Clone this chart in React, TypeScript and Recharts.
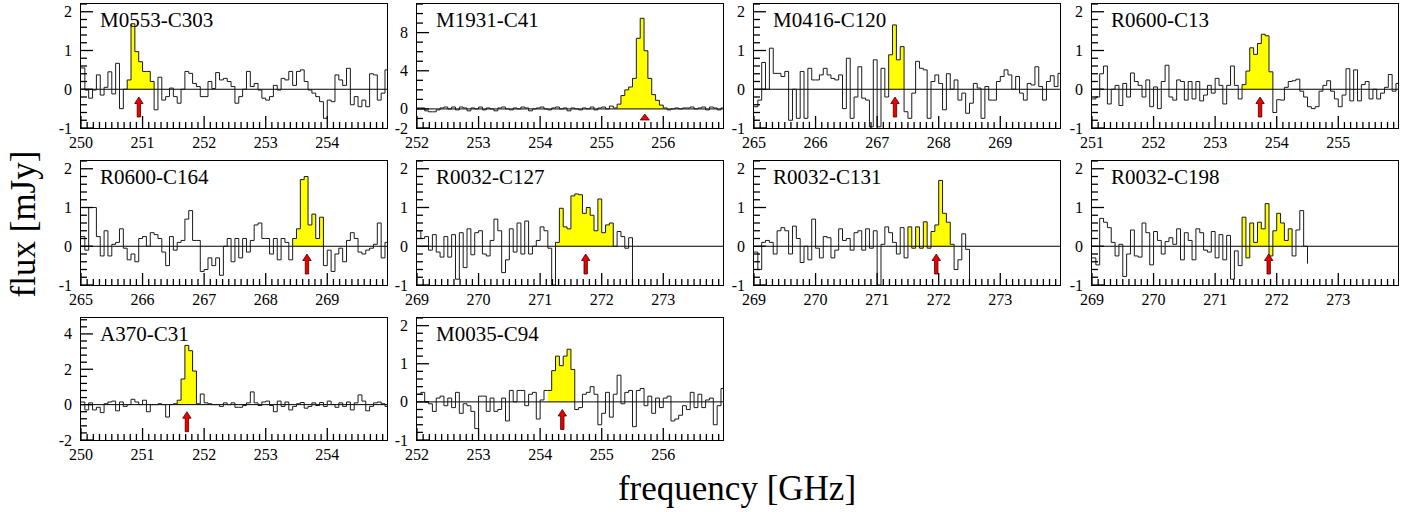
import React from 'react';
import { ComposedChart, XAxis, YAxis, Line, Area, ReferenceLine, ReferenceDot } from 'recharts';

// channel width of the spectra [GHz]
const BIN = 0.0625;

// flux per channel [mJy]
const m0553Flux = [
  0.55, -0.02, -0.23, -0.02, 0.37, -0.15, 0.05, 0.45, -0.12, 0.67, -0.5, 0.0, 0.24, 1.69, 0.97, 0.71, 0.46, 0.46, 0.2, -0.53,
  0.31, -0.28, -0.19, 0.03, -0.19, -0.36, 0.0, 0.46, 0.41, 0.15, 0.07, -0.19, -0.19, 0.2, 0.02, 0.43, 0.24, 0.28, 0.2, 0.07,
  -0.36, -0.19, 0.0, 0.46, 0.07, 0.15, -0.02, -0.23, -0.28, -0.19, 0.1, -0.02, 0.28, 0.24, 0.46, 0.1, 0.46, 0.5, 0.2, -0.02,
  -0.1, -0.19, -0.32, -0.75, -0.28, -0.32, 0.37, 0.24, 0.1, 0.54, -0.4, -0.19, -0.45, -0.28, -0.45, 0.4, 0.37, -0.28, -0.1, 0.5,
];
const m1931Flux = [
  0.1, 0.1, -0.2, -0.3, -0.3, -0.1, 0.1, 0.2, 0.0, 0.2, -0.1, 0.2, 0.1, -0.2, 0.1, 0.0, 0.2, -0.1, 0.1, 0.0,
  -0.2, 0.1, 0.2, 0.0, -0.1, 0.1, 0.0, 0.2, 0.1, -0.2, 0.0, 0.1, 0.2, 0.0, -0.1, 0.1, 0.2, 0.0, 0.1, -0.2,
  0.1, 0.0, -0.1, 0.1, 0.0, 0.2, -0.1, 0.1, 0.2, 0.0, 0.3, 0.1,
  0.5, 1.4, 2.0, 2.3, 3.2, 7.4, 9.5, 6.1, 3.2, 1.5, 0.9, 0.4,
  0.1, -0.1, 0.0, 0.1, 0.0, 0.1, 0.1, 0.2, 0.0, 0.1, 0.2, -0.1, 0.2, 0.1, -0.1, 0.1,
];
const m0416Flux = [
  -0.45, -0.28, 0.69, 0.0, 1.06, 0.41, 0.41, 0.33, 0.46, -0.8, 0.0, -0.75, 0.46, -0.75, 0.54, 0.24, 0.24, 0.37, 0.54, 0.37,
  0.28, 0.24, 0.37, -0.5, 0.8, -0.75, -0.2, 0.58, -0.23, -0.28, -0.97, 0.76, -0.97, 0.54, -0.2,
  0.89, 1.66, 0.76, 1.1,
  -0.58, -0.75, -0.1, 0.72, 0.54, 0.5, -0.75, 0.2, 0.37, 0.15, -0.53, 0.4, 0.0, 0.24, -0.28, -0.1, -0.62, -0.36, 0.15, 0.03,
  -0.75, 0.07, -0.28, -0.28, 0.2, 0.33, 0.5, 0.37, 0.0, 0.33, -0.1, -0.28, 0.15, 0.11, 0.58, 0.07, -0.28, 0.2, 0.35, 0.07, 0.41,
];
const r0600c13Flux = [
  -0.25, -0.2, 0.4, 0.6, -0.38, 0.0, 0.1, -0.42, 0.15, -0.2, 0.42, 0.2, 0.1, -0.2, 0.24, -0.45, 0.06, -0.5, 0.2, 0.62,
  -0.2, -0.28, 0.24, 0.2, -0.28, 0.2, -0.25, 0.2, -0.3, -0.15, 0.1, -0.1, 0.28, 0.1, -0.38, 0.1, 0.6, 0.1, -0.25,
  0.12, 0.47, 1.07, 0.9, 1.18, 1.42, 1.38, 0.45,
  -0.6, -0.27, -0.28, 0.05, 0.2, 0.22, 0.26, -0.05, -0.2, -0.45, -0.5, -0.45, -0.05, 0.1, 0.22, -0.05, -0.25, -0.45, -0.15, 0.53,
  -0.3, 0.5, -0.3, 0.12, 0.2, -0.25, 0.0, -0.25, -0.1, 0.05, 0.38, -0.05, 0.15,
];
const r0600c164Flux = [
  0.25, -0.1, 1.0, 1.0, 0.25, -0.25, 0.4, -0.25, 0.05, 0.1, 0.45, -0.05, -0.35, -0.2, -0.4, 0.2, 0.25, 0.0, 0.35, 0.3,
  0.2, -0.15, -0.5, 0.25, -0.1, 0.1, 0.15, 0.7, 0.92, 0.15, 0.15, -0.65, -0.6, -0.3, -0.5, -0.3, -0.75,
  0.0, 0.2, -0.4, 0.2, -0.3, 0.2, -0.15, 0.15, 0.55, 0.6, 0.2, 0.2, -0.2, 0.2, -0.35, 0.2, 0.1, -0.35,
  0.2, 0.45, 1.72, 1.8, 0.55, 0.83, 0.2, 0.75,
  -0.5, -0.1, -0.65, -0.2, -0.05, -0.4, 0.15, 0.35, 0.2, -0.15, -0.2, -0.1, -0.05, 0.05, 0.6, -0.3, 0.1,
];
const r0032c127Flux = [
  0.4, 0.2, 0.25, -0.1, 0.3, -0.15, -0.28, 0.25, -0.28, 0.3, -0.85, 0.35, -0.55, 0.45, -0.22, 0.35, 0.4, -0.2, -0.25, 0.15,
  0.7, 0.4, -0.68, -0.35, 0.45, -0.15, 0.6, -0.2, 0.65, -0.2, 0.0, 0.15, 0.5, 0.4, -0.05, -1.0,
  0.1, 0.98, 0.5, 0.45, 1.3, 1.35, 1.33, 0.85, 1.0, 0.8, 0.4, 1.22, 0.35, 0.55, 0.6,
  0.0, 0.38, 0.25, -0.05, 0.22,
];
const r0032c131Flux = [
  -0.15, -0.6, 0.1, 0.15, 0.1, -0.2, 0.4, 0.48, 0.4, -0.2, 0.52, 0.2, -0.42, 0.0, -0.35, 0.7, -0.05, -0.3, 0.25, 0.22,
  -0.3, -0.1, 0.45, 0.15, 0.2, -0.1, 0.35, 0.4, -0.1, 0.45, -0.05, 0.4, -1.0, 0.05, 0.5, 0.35, 0.1, -0.2, 0.48, -0.3,
  0.5, -0.05, 0.5, -0.05, 0.63, -0.05, 0.38, 0.55, 1.7, 0.85, 0.62, 0.05,
  -0.6, -0.35, 0.32, -0.08,
];
const r0032c198Flux = [
  -0.3, -0.48, 0.72, 0.62, 0.48, 0.1, -0.25, 0.05, -0.78, -0.2, 0.42, -0.25, -0.28, 0.6, 0.35, -0.48, 0.38, 0.15, -0.2, 0.12,
  0.22, 0.05, 0.45, -0.35, 0.35, 0.15, -0.35, 0.45, 0.35, -0.1, -0.15, 0.38, -0.3, 0.3, -0.35, 0.28, -0.85, -0.12, -0.5,
  0.75, -0.3, 0.6, 0.1, 0.62, 0.45, 1.1, -0.25, 0.4, 0.85, 0.6, 0.15, 0.45,
  -0.25, 0.42, 0.92, 0.0,
];
const a370Flux = [
  0.15, -0.3, 0.1, -0.3, -0.15, -0.45, 0.05, 0.15, 0.2, -0.35, 0.15, -0.1, 0.0, 0.3, 0.15, 0.0, 0.25, -0.4, 0.0, 0.0,
  0.05, 0.0, -0.7, 0.0, 0.05,
  0.25, 1.45, 3.35, 3.05, 1.9,
  0.05, 0.6, 0.1, 0.05, 0.0, 0.0, -0.1, 0.1, 0.0, 0.1, -0.15, -0.15, -0.05, 0.1, 0.72, 0.1, -0.05, 0.15, 0.2, -0.05,
  -0.4, 0.2, -0.1, 0.15, -0.3, -0.1, 0.05, 0.12, -0.2, -0.1, 0.1, -0.05, 0.12, -0.1, 0.2, 0.0, -0.15, 0.1, -0.1, 0.15,
  -0.3, 0.1, 0.55, 0.2, -0.35, -0.1, 0.1, 0.15, 0.05, -0.1,
];
const m0035Flux = [
  0.2, 0.25, 0.0, -0.05, -0.25, 0.1, 0.15, -0.1, 0.1, -0.15, 0.25, -0.3, -0.05, -0.1, -0.25, -0.7, 0.15, 0.15, -0.25, 0.1,
  -0.25, -0.2, 0.1, -0.5, 0.3, 0.0, 0.3, 0.3, -0.1, 0.2, 0.25, -0.45, 0.05, 0.3,
  0.3, 0.82, 1.2, 0.95, 1.2, 1.38, 0.85,
  -0.2, -0.15, 0.2, 0.25, 0.4, 0.2, -0.6, -0.3, 0.25, -0.4, 0.2, 0.7, -0.05, 0.25, 0.3, -0.65, 0.3, 0.35, -0.1, 0.15,
  -0.3, 0.1, -0.15, 0.1, 0.15, -0.5, -0.45, -0.35, -0.1, -0.2, 0.25, -0.15, 0.2, -0.15, 0.05, 0.1, -0.6, -0.1, 0.35,
];

// names, first channel, line window (yellow), arrow position
const names = ['M0553-C303', 'M1931-C41', 'M0416-C120', 'R0600-C13', 'R0600-C164', 'R0032-C127', 'R0032-C131', 'R0032-C198', 'A370-C31', 'M0035-C94'];
const starts = [250, 252, 265, 251, 265, 269, 269, 269, 250, 252];
const fluxes = [m0553Flux, m1931Flux, m0416Flux, r0600c13Flux, r0600c164Flux, r0032c127Flux, r0032c131Flux, r0032c198Flux, a370Flux, m0035Flux];
const endValues: (number | null)[] = [null, null, null, null, null, -1, -1, -0.45, null, null];
const lineWindows: [number, number][] = [
  [250.75, 251.19], [255.25, 256.0], [267.19, 267.44], [253.44, 253.95], [268.43, 268.94],
  [271.25, 272.19], [271.5, 272.25], [271.44, 272.25], [251.56, 251.87], [254.12, 254.56],
];
const arrowFreqs = [250.94, 255.7, 267.29, 253.73, 268.67, 271.74, 271.96, 271.87, 251.72, 254.36];
const arrowTips = [-0.2, -0.53, -0.2, -0.2, -0.2, -0.2, -0.2, -0.2, -0.4, -0.2];

const yDomains: [number, number][] = [[-1, 2.2], [-2, 11], [-1, 2.2], [-1, 2.2], [-1, 2.2], [-1, 2.2], [-1, 2.2], [-1, 2.2], [-2, 4.9], [-1, 2.2]];
const yStepList = [0.2, 1, 0.2, 0.2, 0.2, 0.2, 0.2, 0.2, 0.4, 0.2];
const yLabelList = [[-1, 0, 1, 2], [-2, 0, 4, 8], [-1, 0, 1, 2], [-1, 0, 1, 2], [-1, 0, 1, 2], [-1, 0, 1, 2], [-1, 0, 1, 2], [-1, 0, 1, 2], [-2, 0, 2, 4], [-1, 0, 1, 2]];

const colLeft = [81, 417, 754, 1092];
const rowTop = [4, 161, 318];
const rowH = [124, 124, 122];
const BOX_W = 306;
const Y_AXIS_W = 40;
const X_AXIS_H = 28;
const FONT = '"Liberation Serif", "Times New Roman", serif';

const near = (a: number, b: number) => Math.abs(a - b) < 1e-6;
const steps = (a: number, b: number, s: number) => {
  const out: number[] = [];
  for (let k = 0; a + k * s <= b + 1e-9; k++) out.push(Math.round((a + k * s) * 1000) / 1000);
  return out;
};

function buildRows(start: number, flux: number[], end: number | null, win: [number, number]) {
  const inLine = flux.map((_, i) => {
    const c = start + (i + 0.5) * BIN;
    return c >= win[0] && c <= win[1];
  });
  const rows: { x: number; flux: number; hl: number | null }[] = flux.map((v, i) => ({
    x: start + i * BIN,
    flux: v,
    hl: inLine[i] ? v : null,
  }));
  rows.push({ x: start + flux.length * BIN, flux: end ?? flux[flux.length - 1], hl: null });
  for (let i = 1; i < rows.length; i++) {
    if (!inLine[i] && inLine[i - 1]) rows[i].hl = flux[i - 1];
  }
  return rows;
}

// tick marks point into the frame, long at labelled values
const makeXTick = (labels: number[]) => (props: any) => {
  const { x, y, payload } = props;
  const v = payload.value;
  const major = near(v, Math.round(v));
  return (
    <g>
      <line x1={x} x2={x} y1={y} y2={y - (major ? 12 : 6)} stroke="#000" strokeWidth={1.3} />
      {labels.some((l) => near(l, v)) && (
        <text x={x} y={y + 20} textAnchor="middle" fontSize={16} fontFamily={FONT} fill="#000">
          {Math.round(v)}
        </text>
      )}
    </g>
  );
};

const makeYTick = (labels: number[]) => (props: any) => {
  const { x, y, payload } = props;
  const v = payload.value;
  const major = labels.some((l) => near(l, v));
  return (
    <g>
      <line x1={x} x2={x + (major ? 12 : 6)} y1={y} y2={y} stroke="#000" strokeWidth={1.3} />
      {major && (
        <text x={x - 9} y={y + 5.5} textAnchor="end" fontSize={16} fontFamily={FONT} fill="#000">
          {v}
        </text>
      )}
    </g>
  );
};

const makeArrow = (headOnly: boolean) => (props: any) => {
  const { cx, cy } = props;
  if (headOnly) {
    return <polygon points={`${cx},${cy} ${cx - 4.5},${cy + 6} ${cx + 4.5},${cy + 6}`} fill="#ee0000" stroke="#400" strokeWidth={0.8} />;
  }
  const pts = [
    [cx, cy], [cx - 4.2, cy + 6.5], [cx - 1.7, cy + 6.5], [cx - 1.7, cy + 20],
    [cx + 1.7, cy + 20], [cx + 1.7, cy + 6.5], [cx + 4.2, cy + 6.5],
  ].map((p) => p.join(',')).join(' ');
  return <polygon points={pts} fill="#ee0000" stroke="#400" strokeWidth={0.8} />;
};

const Panel: React.FC<{ i: number }> = ({ i }) => {
  const row = Math.floor(i / 4);
  const col = i % 4;
  const boxH = rowH[row];
  const start = starts[i];
  const xDomain: [number, number] = [start, start + 4.97];
  const yDomain = yDomains[i];
  const rows = buildRows(start, fluxes[i], endValues[i], lineWindows[i]);
  const xLabels = [0, 1, 2, 3, 4].map((k) => start + k);
  const width = Y_AXIS_W + BOX_W + 4;
  const height = 2 + boxH + X_AXIS_H;

  return (
    <div style={{ position: 'absolute', left: colLeft[col] - Y_AXIS_W, top: rowTop[row] - 2, width, height }}>
      <ComposedChart width={width} height={height} data={rows} margin={{ top: 2, right: 4, bottom: 0, left: 0 }}>
        <XAxis
          dataKey="x"
          type="number"
          domain={xDomain}
          allowDataOverflow
          ticks={steps(xDomain[0], xDomain[1], 0.1)}
          interval={0}
          axisLine={false}
          tickLine={false}
          tickSize={0}
          tickMargin={0}
          height={X_AXIS_H}
          tick={makeXTick(xLabels)}
        />
        <YAxis
          type="number"
          domain={yDomain}
          allowDataOverflow
          ticks={steps(yDomain[0], yDomain[1], yStepList[i])}
          interval={0}
          axisLine={false}
          tickLine={false}
          tickSize={0}
          tickMargin={0}
          width={Y_AXIS_W}
          tick={makeYTick(yLabelList[i])}
        />
        <Area
          type="stepAfter"
          dataKey="hl"
          baseValue={0}
          stroke="none"
          fill="#ffff00"
          fillOpacity={1}
          connectNulls={false}
          dot={false}
          activeDot={false}
          isAnimationActive={false}
        />
        <ReferenceLine y={0} stroke="#000" strokeWidth={1} />
        <Line
          type="stepAfter"
          dataKey="flux"
          stroke="#1a1a1a"
          strokeWidth={1}
          dot={false}
          activeDot={false}
          isAnimationActive={false}
        />
        <ReferenceDot x={arrowFreqs[i]} y={arrowTips[i]} r={4} ifOverflow="visible" shape={makeArrow(i === 1)} />
      </ComposedChart>
      {/* frame round the plot area */}
      <div
        style={{
          position: 'absolute',
          left: Y_AXIS_W - 0.75,
          top: 2 - 0.75,
          width: BOX_W + 1.5,
          height: boxH + 1.5,
          border: '1.5px solid #000',
          boxSizing: 'border-box',
          pointerEvents: 'none',
        }}
      />
    </div>
  );
};

const textStyle: React.CSSProperties = { position: 'absolute', fontFamily: FONT, color: '#000', whiteSpace: 'nowrap', lineHeight: 1 };

export default function App() {
  return (
    <div style={{ position: 'absolute', left: 0, top: 0, width: 1425, height: 512, background: '#fff' }}>
      {names.map((_, i) => (
        <Panel key={i} i={i} />
      ))}
      {names.map((n, i) => (
        <div key={n} style={{ ...textStyle, left: colLeft[i % 4] + 19, top: rowTop[Math.floor(i / 4)] + 6, fontSize: 21 }}>
          {n}
        </div>
      ))}
      <div style={{ ...textStyle, left: 23, top: 224, fontSize: 35, transform: 'translate(-50%, -50%) rotate(-90deg)' }}>
        flux [mJy]
      </div>
      <div style={{ ...textStyle, left: 737, top: 471, fontSize: 35, transform: 'translateX(-50%)' }}>
        frequency [GHz]
      </div>
    </div>
  );
}
